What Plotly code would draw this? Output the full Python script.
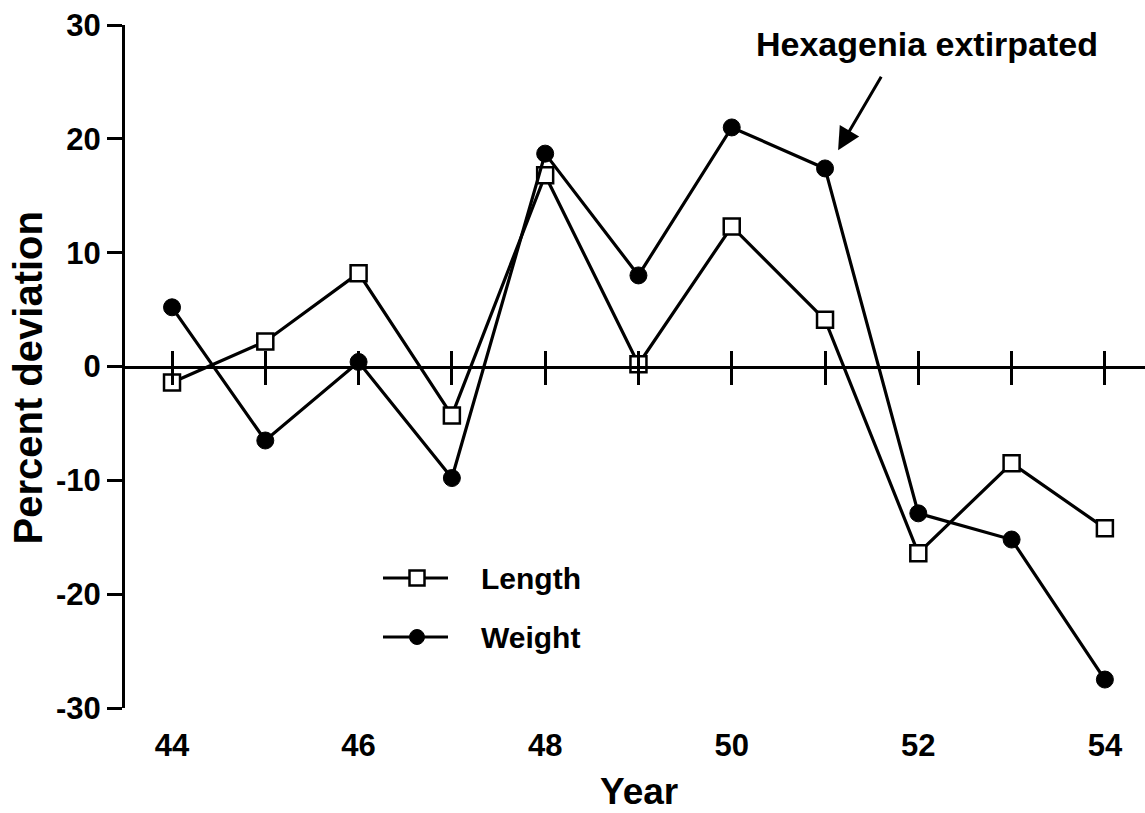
import plotly.graph_objects as go

# Survey years (19xx) and percent deviation from the long-term mean
years = [44, 45, 46, 47, 48, 49, 50, 51, 52, 53, 54]
length_dev = [-1.4, 2.2, 8.2, -4.3, 16.8, 0.2, 12.3, 4.1, -16.4, -8.5, -14.2]
weight_dev = [5.2, -6.5, 0.4, -9.8, 18.7, 8.0, 21.0, 17.4, -12.9, -15.2, -27.5]

x_tick_vals = [44, 46, 48, 50, 52, 54]
x_tick_text = ["44", "46", "48", "50", "52", "54"]
y_tick_vals = [-30, -20, -10, 0, 10, 20, 30]
y_tick_text = ["-30", "-20", "-10", "0", "10", "20", "30"]

W, H = 1145, 813
ML, MR, MT, MB = 125, 0, 25, 105
PW, PH = W - ML - MR, H - MT - MB
X_RANGE = [43.496, 54.43]
Y_RANGE = [-30, 30]

FONT = "Liberation Sans, Arial, Helvetica, sans-serif"
INK = "#000000"


def px_x(p):
    return (p - ML) / PW


def px_y(p):
    return (H - MB - p) / PH


fig = go.Figure()

fig.add_trace(go.Scatter(
    x=years, y=length_dev, name="Length", mode="lines+markers",
    line=dict(color=INK, width=3.2),
    marker=dict(symbol="square", size=16, color="white",
                line=dict(color=INK, width=2.5)),
    cliponaxis=False,
))
fig.add_trace(go.Scatter(
    x=years, y=weight_dev, name="Weight", mode="lines+markers",
    line=dict(color=INK, width=3.2),
    marker=dict(symbol="circle", size=17, color=INK,
                line=dict(color=INK, width=1)),
    cliponaxis=False,
))

# Hand-built legend
legend_rows = [("Length", 578, "square"), ("Weight", 637, "circle")]
for label, ypx, sym in legend_rows:
    fig.add_shape(type="line", xref="paper", yref="paper",
                  x0=px_x(383), x1=px_x(448), y0=px_y(ypx), y1=px_y(ypx),
                  line=dict(color=INK, width=3))
    half = 7.5
    if sym == "square":
        fig.add_shape(type="rect", xref="paper", yref="paper",
                      x0=px_x(417 - half), x1=px_x(417 + half),
                      y0=px_y(ypx + half), y1=px_y(ypx - half),
                      fillcolor="white", line=dict(color=INK, width=2.5))
    else:
        fig.add_shape(type="circle", xref="paper", yref="paper",
                      x0=px_x(417 - half), x1=px_x(417 + half),
                      y0=px_y(ypx + half), y1=px_y(ypx - half),
                      fillcolor=INK, line=dict(color=INK, width=1))
    fig.add_annotation(text=label, xref="paper", yref="paper",
                       x=px_x(479), y=px_y(ypx), xanchor="left", yanchor="middle",
                       showarrow=False,
                       font=dict(family=FONT, size=30, color=INK, weight="bold"))

# Event marker
fig.add_annotation(text="Hexagenia extirpated", xref="paper", yref="paper",
                   x=px_x(927), y=px_y(44), xanchor="center", yanchor="middle",
                   showarrow=False,
                   font=dict(family=FONT, size=34, color=INK, weight="bold"))
fig.add_annotation(text="", x=51.14, y=19.0, xref="x", yref="y",
                   showarrow=True, arrowhead=2, arrowsize=1.5, arrowwidth=3,
                   arrowcolor=INK, ax=44, ay=-75, standoff=0)

# Axis titles
fig.add_annotation(text="Percent deviation", xref="paper", yref="paper",
                   x=px_x(27), y=px_y(378.5), xanchor="center", yanchor="middle",
                   textangle=-90, showarrow=False,
                   font=dict(family=FONT, size=40, color=INK, weight="bold"))
fig.add_annotation(text="Year", xref="paper", yref="paper",
                   x=px_x(638.5), y=px_y(791), xanchor="center", yanchor="middle",
                   showarrow=False,
                   font=dict(family=FONT, size=37, color=INK, weight="bold"))

tick_font = dict(family=FONT, size=31, color=INK, weight="bold")

fig.update_layout(
    width=W, height=H,
    margin=dict(l=ML, r=MR, t=MT, b=MB, pad=0),
    paper_bgcolor="white", plot_bgcolor="white",
    showlegend=False,
    xaxis=dict(
        range=X_RANGE, tickvals=x_tick_vals, ticktext=x_tick_text,
        showgrid=False, zeroline=False, showline=False,
        ticks="outside", ticklen=10, tickcolor="rgba(0,0,0,0)",
        tickfont=tick_font,
    ),
    # zero reference line with crossing year ticks
    xaxis2=dict(
        range=X_RANGE, overlaying="x", anchor="free", position=0.5,
        tickvals=years, showticklabels=False, showgrid=False, zeroline=False,
        showline=True, linecolor=INK, linewidth=3,
        ticks="outside", ticklen=16, tickwidth=2.5, tickcolor=INK,
    ),
    xaxis3=dict(
        range=X_RANGE, overlaying="x", anchor="free", position=0.5,
        tickvals=years, showticklabels=False, showgrid=False, zeroline=False,
        showline=False,
        ticks="inside", ticklen=16, tickwidth=2.5, tickcolor=INK,
    ),
    yaxis=dict(
        range=Y_RANGE, tickvals=y_tick_vals, ticktext=y_tick_text,
        showgrid=False, zeroline=False,
        showline=True, linecolor=INK, linewidth=3,
        ticks="outside", ticklen=15, tickwidth=2.5, tickcolor=INK,
        tickfont=tick_font,
    ),
)

# empty traces so the overlay axes are laid out
fig.add_trace(go.Scatter(x=[None], y=[None], xaxis="x2", yaxis="y",
                         showlegend=False, hoverinfo="skip"))
fig.add_trace(go.Scatter(x=[None], y=[None], xaxis="x3", yaxis="y",
                         showlegend=False, hoverinfo="skip"))

fig.write_html("out.html")
